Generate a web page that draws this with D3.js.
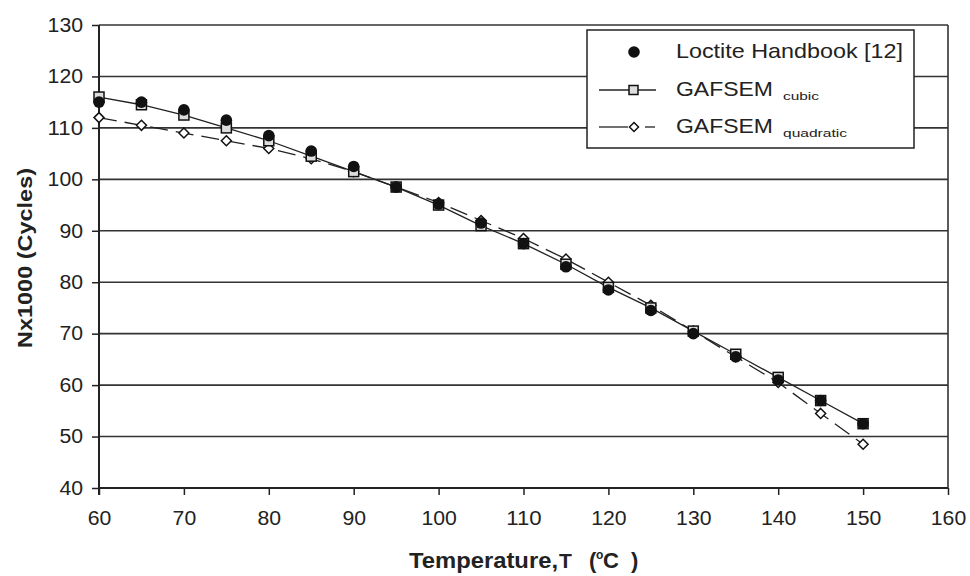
<!DOCTYPE html>
<html><head><meta charset="utf-8">
<script src="https://cdn.jsdelivr.net/npm/d3@7"></script>
<style>body{margin:0;background:#fff;} text{font-family:"Liberation Sans",Arial,sans-serif;}</style>
</head><body>
<svg id="c" width="970" height="576"></svg>
<script>
const temps = [60,65,70,75,80,85,90,95,100,105,110,115,120,125,130,135,140,145,150];
const loctite = [115,115,113.5,111.5,108.5,105.5,102.5,98.5,95.2,91.5,87.5,83,78.5,74.5,70,65.5,61,57,52.5];
const cubic = [116,114.5,112.5,110,107.5,104.5,101.5,98.5,95,91,87.5,83.5,79,75,70.5,66,61.5,57,52.5];
const quadratic = [112,110.5,109,107.5,106,104,101.5,98.5,95.5,92,88.5,84.5,80,75.5,70.5,65.5,60.5,54.5,48.5];
const xTicks = [60,70,80,90,100,110,120,130,140,150,160];
const yTicks = [40,50,60,70,80,90,100,110,120,130];

const svg = d3.select("#c");
const x = d3.scaleLinear().domain([60,160]).range([99,948]);
const y = d3.scaleLinear().domain([40,130]).range([488,25]);

// grid
svg.append("g").selectAll("line").data(yTicks.filter(d=>d>40)).join("line")
  .attr("x1",x(60)).attr("x2",x(160)).attr("y1",d=>y(d)).attr("y2",d=>y(d))
  .attr("stroke","#333").attr("stroke-width",1.6);
// right border
svg.append("line").attr("x1",x(160)).attr("x2",x(160)).attr("y1",y(130)).attr("y2",y(40))
  .attr("stroke","#333").attr("stroke-width",1.6);

const xa = svg.append("g").attr("transform",`translate(0,${y(40)})`)
  .call(d3.axisBottom(x).tickValues(xTicks).tickSize(7).tickPadding(16));
const ya = svg.append("g").attr("transform",`translate(${x(60)},0)`)
  .call(d3.axisLeft(y).tickValues(yTicks).tickSize(7).tickPadding(9));
[xa,ya].forEach(a=>{
  a.select(".domain").attr("stroke","#222").attr("stroke-width",2);
  a.selectAll(".tick line").attr("stroke","#222").attr("stroke-width",1.5);
  a.selectAll("text").attr("font-size",19.5).attr("fill","#222").attr("font-family","Liberation Sans, Arial, sans-serif")
    .attr("textLength",function(){return this.textContent.length*11.8;}).attr("lengthAdjust","spacingAndGlyphs");
});
xa.select(".domain").attr("d",`M${x(60)},0H${x(160)}`);
ya.select(".domain").attr("d",`M0,${y(130)}V${y(40)+7}`);

const line = (vals)=>d3.line().x((d,i)=>x(temps[i])).y(d=>y(d))(vals);
svg.append("path").attr("d",line(quadratic)).attr("fill","none").attr("stroke","#222")
  .attr("stroke-width",1.3).attr("stroke-dasharray","18,8");
svg.append("path").attr("d",line(cubic)).attr("fill","none").attr("stroke","#222").attr("stroke-width",1.3);

// diamonds
svg.append("g").selectAll("path").data(quadratic).join("path")
  .attr("transform",(d,i)=>`translate(${x(temps[i])},${y(d)})`)
  .attr("d","M0,-5L5,0L0,5L-5,0Z").attr("fill","#fff").attr("stroke","#111").attr("stroke-width",1.5);
// squares
svg.append("g").selectAll("rect").data(cubic).join("rect")
  .attr("x",(d,i)=>x(temps[i])-5).attr("y",d=>y(d)-5).attr("width",10).attr("height",10)
  .attr("fill","#ddd").attr("stroke","#111").attr("stroke-width",1.5);
// circles
svg.append("g").selectAll("circle").data(loctite).join("circle")
  .attr("cx",(d,i)=>x(temps[i])).attr("cy",d=>y(d)).attr("r",5.8).attr("fill","#111");

// legend
const lg = svg.append("g");
lg.append("rect").attr("x",587).attr("y",30).attr("width",327).attr("height",118)
  .attr("fill","#fff").attr("stroke","#222").attr("stroke-width",1.5);
lg.append("circle").attr("cx",634).attr("cy",52).attr("r",5.8).attr("fill","#111");
lg.append("line").attr("x1",599).attr("x2",656).attr("y1",90).attr("y2",90).attr("stroke","#222").attr("stroke-width",1.3);
lg.append("rect").attr("x",629).attr("y",85.5).attr("width",9).attr("height",9).attr("fill","#ddd").attr("stroke","#111").attr("stroke-width",1.5);
lg.append("line").attr("x1",599).attr("x2",628).attr("y1",127).attr("y2",127).attr("stroke","#222").attr("stroke-width",1.3);
lg.append("line").attr("x1",645).attr("x2",655).attr("y1",127).attr("y2",127).attr("stroke","#222").attr("stroke-width",1.3);
lg.append("path").attr("transform","translate(634,127)").attr("d","M0,-4.5L4.5,0L0,4.5L-4.5,0Z").attr("fill","#fff").attr("stroke","#111").attr("stroke-width",1.5);
const lt = [["Loctite Handbook [12]","",227],["GAFSEM","cubic",97],["GAFSEM","quadratic",97]];
const sw = [0,36,64];
const ly = [58,96,133];
lt.forEach((t,i)=>{
  lg.append("text").attr("x",676).attr("y",ly[i]).attr("font-size",21).attr("fill","#222")
    .attr("textLength",t[2]).attr("lengthAdjust","spacingAndGlyphs").text(t[0]);
  if(t[1]) lg.append("text").attr("x",783).attr("y",ly[i]+4).attr("font-size",11).attr("fill","#222")
    .attr("textLength",sw[i]).attr("lengthAdjust","spacingAndGlyphs").text(t[1]);
});

// axis titles
svg.append("text").attr("transform","translate(32,258) rotate(-90)").attr("text-anchor","middle")
  .attr("font-size",21).attr("font-weight","bold").attr("fill","#222")
  .attr("textLength",180).attr("lengthAdjust","spacingAndGlyphs").text("Nx1000 (Cycles)");
const xt = svg.append("g").attr("font-size",22).attr("font-weight","bold").attr("fill","#222");
xt.append("text").attr("x",409).attr("y",568).attr("textLength",149).attr("lengthAdjust","spacingAndGlyphs").text("Temperature,");
xt.append("text").attr("x",559).attr("y",568).attr("font-family","Liberation Serif, Times New Roman, serif").attr("font-size",21).text("T");
xt.append("text").attr("x",589).attr("y",568).text("(");
xt.append("text").attr("x",596).attr("y",559).attr("font-size",12).text("o");
xt.append("text").attr("x",603).attr("y",568).text("C");
xt.append("text").attr("x",631).attr("y",568).text(")");
</script>
</body></html>
